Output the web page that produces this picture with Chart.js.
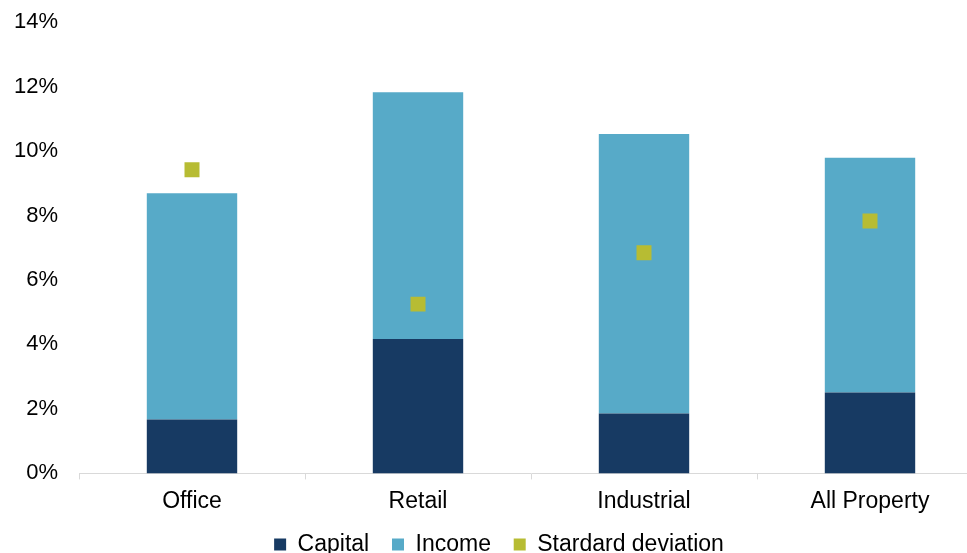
<!DOCTYPE html>
<html>
<head>
<meta charset="utf-8">
<title>Returns by sector</title>
<script src="https://cdn.jsdelivr.net/npm/chart.js@4/dist/chart.umd.min.js"></script>
<style>
  html, body { margin: 0; padding: 0; background: #fff; overflow: hidden; }
  #wrap { width: 1011px; height: 566px; }
</style>
</head>
<body>
<div id="wrap"><canvas id="myChart" width="1011" height="566"></canvas></div>
<script>
// sector returns (%)
var sectors = ['Office', 'Retail', 'Industrial', 'All Property'];
var capital = [1.67, 4.17, 1.86, 2.51];
var income = [7.02, 7.65, 8.67, 7.28];
var stdDev = [9.42, 5.25, 6.84, 7.83];
var yTicks = [0, 2, 4, 6, 8, 10, 12, 14];

var fontFamily = '"Liberation Sans", Arial, sans-serif';

var graficoContainer = document.getElementById('myChart');
var grafico = new Chart(graficoContainer, {
    type: 'bar',
    data: {
        labels: sectors,
        datasets: [{
            type: 'line',
            label: 'Stardard deviation',
            data: stdDev,
            showLine: false,
            pointStyle: 'rect',
            pointRadius: 10.6,
            pointHoverRadius: 10.6,
            backgroundColor: '#b7bc33',
            borderColor: '#b7bc33',
            borderWidth: 0,
            stack: 'sd'
        }, {
            label: 'Capital',
            data: capital,
            backgroundColor: '#173a63',
            stack: 'ret'
        }, {
            label: 'Income',
            data: income,
            backgroundColor: '#57aac8',
            stack: 'ret'
        }]
    },
    options: {
        responsive: false,
        animation: false,
        layout: { padding: { left: 15, right: 28, top: 22, bottom: 0 } },
        datasets: {
            bar: { categoryPercentage: 1, barPercentage: 0.4 }
        },
        scales: {
            x: {
                stacked: true,
                grid: {
                    display: true,
                    offset: true,
                    drawOnChartArea: false,
                    drawTicks: true,
                    tickLength: 6,
                    color: '#d9d9d9'
                },
                border: { display: true, color: '#d9d9d9', width: 1 },
                ticks: {
                    color: '#000',
                    padding: 8,
                    font: { family: fontFamily, size: 23 }
                }
            },
            y: {
                stacked: true,
                min: yTicks[0],
                max: yTicks[yTicks.length - 1],
                afterBuildTicks: function (axis) {
                    axis.ticks = yTicks.map(function (v) { return { value: v }; });
                },
                // fixed gutter for the percentage labels, top spacing comes from layout
                afterFit: function (axis) {
                    axis.width = 64;
                    axis.paddingTop = 0;
                    axis.paddingBottom = 0;
                },
                grid: { display: false, drawTicks: false },
                border: { display: false },
                ticks: {
                    color: '#000',
                    padding: 21,
                    font: { family: fontFamily, size: 22 },
                    callback: function (v) { return v + '%'; }
                }
            }
        },
        plugins: {
            tooltip: { enabled: false },
            legend: {
                position: 'bottom',
                labels: {
                    color: '#000',
                    boxWidth: 12,
                    boxHeight: 12,
                    padding: 10,
                    font: { family: fontFamily, size: 23 },
                    // a little extra room after the bar entries
                    generateLabels: function (chart) {
                        var items = Chart.defaults.plugins.legend.labels.generateLabels(chart);
                        items.forEach(function (item) {
                            if (item.datasetIndex !== 0) item.text = item.text + '  ';
                        });
                        return items;
                    },
                    sort: function (a, b) { return b.datasetIndex === 0 ? -1 : (a.datasetIndex === 0 ? 1 : a.datasetIndex - b.datasetIndex); }
                }
            }
        }
    }
});
</script>
</body>
</html>
